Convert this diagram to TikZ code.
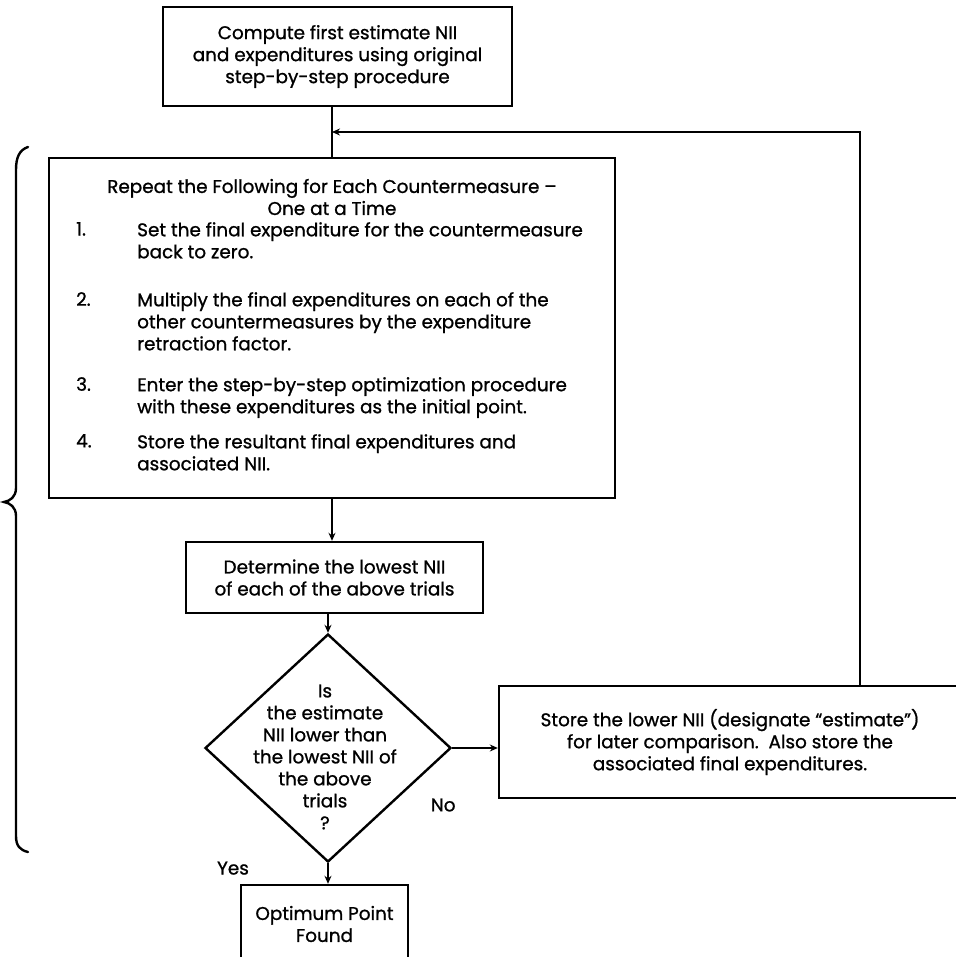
\documentclass[tikz,border=0pt]{standalone}
\usepackage{fontspec}
\setmainfont{Poppins}[FakeBold=1]
\usetikzlibrary{positioning}
\usetikzlibrary {arrows.meta}
\usetikzlibrary{shapes.geometric}
\newcommand{\flowfont}{\fontsize{18.4}{22}\selectfont}
\tikzset{flowbox/.style={rectangle,draw=black,fill=white,line width=2.4pt,
inner sep=0pt,align=center,font=\flowfont}}
\tikzset{flowtest/.style={diamond,draw=black,fill=white,line width=2.4pt,
inner sep=0pt,minimum width=246pt,minimum height=228pt}}
\tikzset{flowitem/.style={rectangle,draw=none,anchor=north west,
inner sep=0pt,align=left,font=\flowfont}}
\tikzset{flowlabel/.style={rectangle,draw=none,inner sep=0pt,font=\flowfont}}

\begin{document}
\begin{tikzpicture}[x=1pt,y=-1pt]
    \useasboundingbox (0,0) rectangle (955,957);

        \node[flowbox,minimum width=349pt,minimum height=99pt] (boxCompute) at (337.5,56.5)
            {\fontsize{18.4}{24}\selectfont Compute first estimate NII\\and expenditures using original\\step-by-step procedure};
        \node[flowbox,minimum width=566pt,minimum height=340pt] (boxRepeat) at (332,328) {};
        \node[flowbox,minimum width=297pt,minimum height=71pt] (boxLowest) at (334.5,577.5)
            {Determine the lowest NII\\of each of the above trials};
        \node[flowtest] (boxTest) at (328,748) {};
        \node[flowbox,minimum width=462pt,minimum height=112pt] (boxStore) at (730,742)
            {Store the lower NII (designate ``estimate'')\\for later comparison.\ \ Also store the\\associated final expenditures.};
        \node[flowbox,minimum width=167pt,minimum height=78pt] (boxOptimum) at (324.5,924)
            {\fontsize{18.4}{27}\selectfont Optimum Point\\Found};

        % text of the repeat box
        \node[flowlabel,align=center] (repeatHead) at (332,197)
            {\fontsize{18.4}{16}\selectfont Repeat the Following for Each Countermeasure --\\One at a Time};
        \node[flowitem] (numA) at (76,222) {1.};
        \node[flowitem] (itemA) at (137,222) {Set the final expenditure for the countermeasure\\back to zero.};
        \node[flowitem] (numB) at (76,292) {2.};
        \node[flowitem] (itemB) at (137,292) {Multiply the final expenditures on each of the\\other countermeasures by the expenditure\\retraction factor.};
        \node[flowitem] (numC) at (76,377) {3.};
        \node[flowitem] (itemC) at (137,377) {Enter the step-by-step optimization procedure\\with these expenditures as the initial point.};
        \node[flowitem] (numD) at (76,434) {4.};
        \node[flowitem] (itemD) at (137,434) {Store the resultant final expenditures and\\associated NII.};

        % text of the test
        \node[flowlabel,align=center] (testText) at (325,757)
            {\fontsize{18.4}{23}\selectfont Is\\the estimate\\NII lower than\\the lowest NII of\\the above\\trials\\?};

        \node[flowlabel] (labNo) at ([xshift=-9pt,yshift=-57pt]boxTest.east) {No};
        \node[flowlabel] (labYes) at ([xshift=-95pt,yshift=-5pt]boxTest.south) {Yes};

        % connectors
        \draw [line width=2.4pt] (boxCompute.south -| boxRepeat.north) -- (boxRepeat.north);
        \draw [line width=2.4pt,-{Stealth[length=8pt,width=7pt]}] (boxRepeat.south) -- (boxLowest.north -| boxRepeat.south);
        \draw [line width=2.4pt,-{Stealth[length=8pt,width=7pt]}] (boxTest.north |- boxLowest.south) -- (boxTest.north);
        \draw [line width=2.4pt,-{Stealth[length=8pt,width=7pt]}] (boxTest.east) -- (boxTest.east -| boxStore.west);
        \draw [line width=2.4pt,-{Stealth[length=8pt,width=7pt]}] (boxTest.south) -- (boxTest.south |- boxOptimum.north);

        \coordinate (storeUp) at ([xshift=130pt]boxStore.north);
        \coordinate (joinPt) at (332,132);
        \draw [line width=2.4pt,-{Stealth[length=8pt,width=7pt]}] (storeUp) |- (joinPt);

        % brace round the loop
        \draw [line width=2.4pt,line cap=round] (28,147) .. controls (19,150) and (16,158) .. (16,170)
            -- (16,488) .. controls (16,497) and (10,501) .. (4,502)
            .. controls (10,503) and (16,507) .. (16,516)
            -- (16,836) .. controls (16,846) and (20,850) .. (28,852);

    \end{tikzpicture}
\end{document}
